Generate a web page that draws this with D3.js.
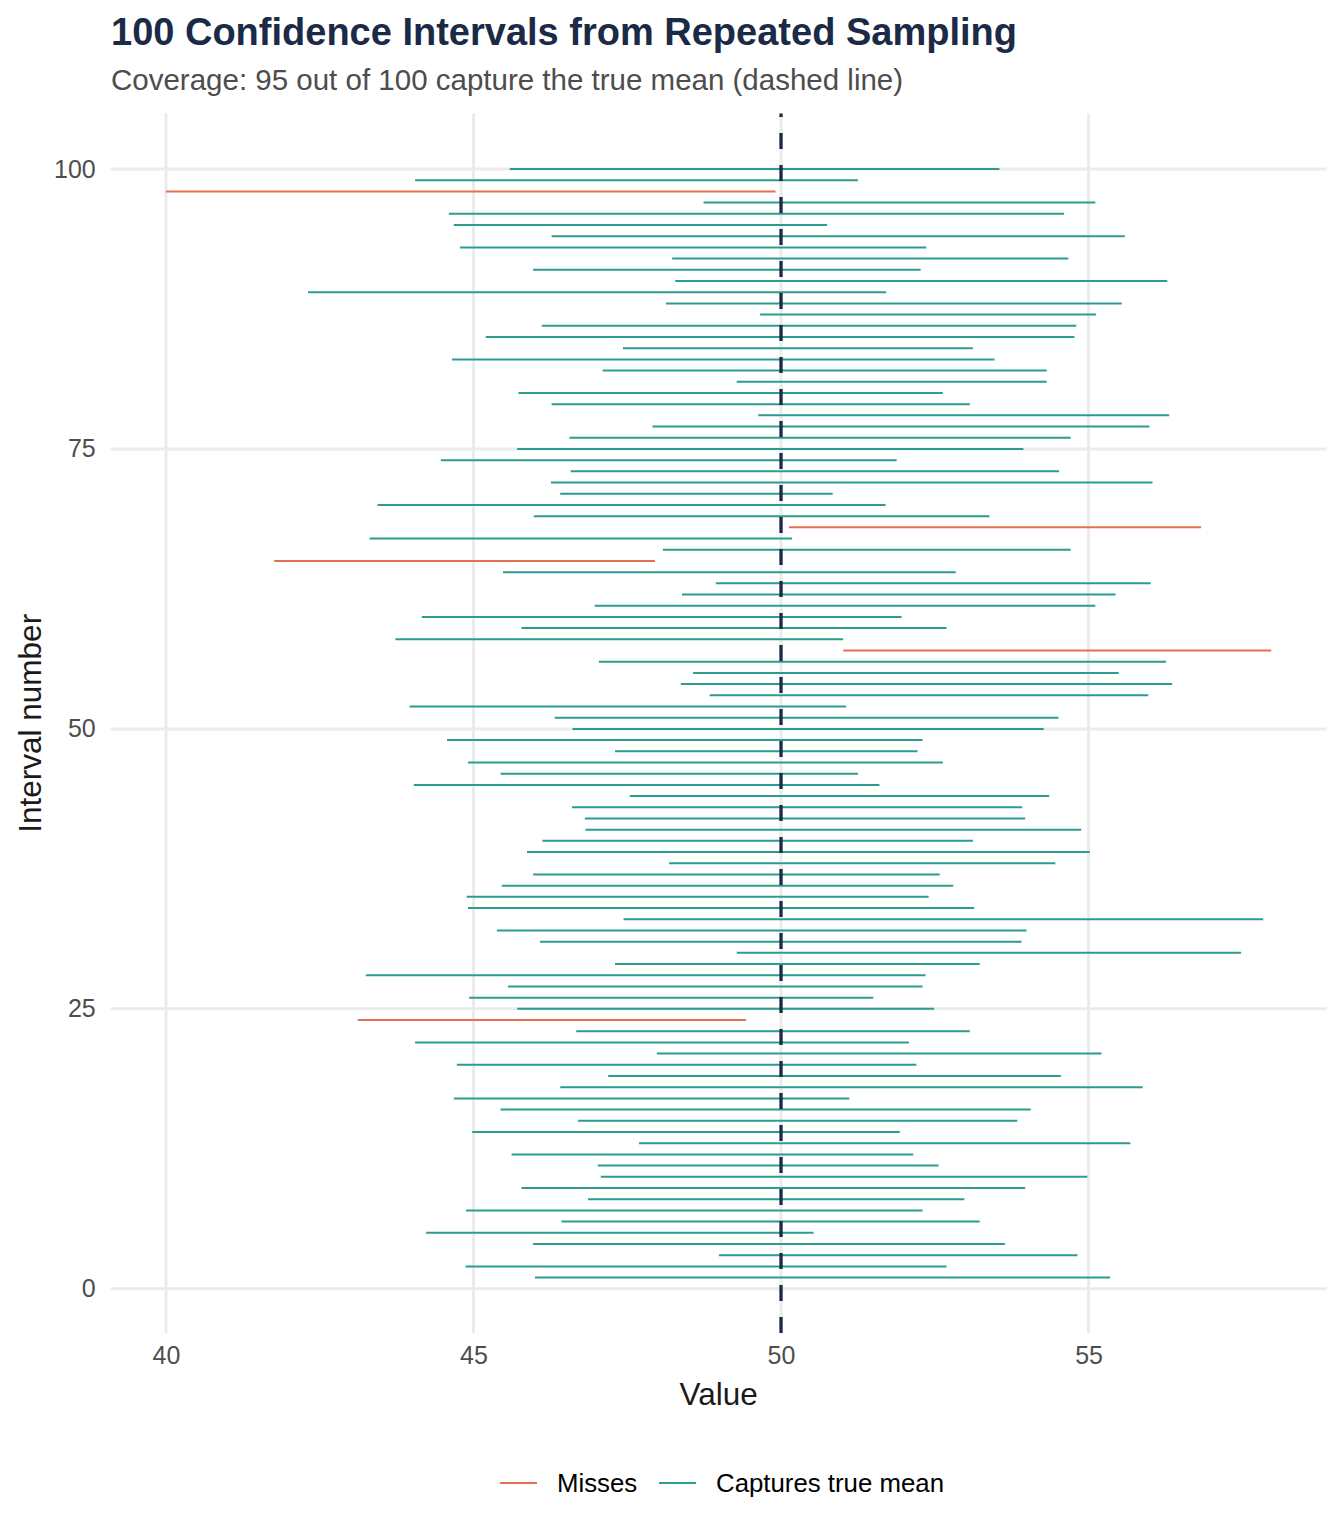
<!DOCTYPE html>
<html lang="en">
<head>
    <meta charset="UTF-8">
    <title>100 Confidence Intervals</title>
    <style>
        body {
            margin: 0;
            background: #FFFFFF;
        }
        text {
            font-family: "Liberation Sans", Arial, sans-serif;
        }
    </style>
</head>
<body>
<div id="ciChart"></div>
</body>
<script src="https://d3js.org/d3.v7.min.js"></script>
<script>
    // interval number 1..100, lower and upper bound of each interval
    const intervalIds = d3.range(1, 101);
    const lowerBounds = [
        46.00, 44.87, 48.99, 45.97, 44.23, 46.43, 44.88, 46.86, 45.78, 47.07,
        47.02, 45.62, 47.69, 44.98, 46.70, 45.44, 44.68, 46.41, 47.19, 44.73,
        47.98, 44.05, 46.67, 43.12, 45.71, 44.93, 45.56, 43.25, 47.30, 49.28,
        46.08, 45.38, 47.44, 44.91, 44.89, 45.46, 45.97, 48.18, 45.87, 46.12,
        46.82, 46.81, 46.60, 47.54, 44.03, 45.44, 44.91, 47.30, 44.57, 46.61,
        46.32, 43.96, 48.84, 48.37, 48.57, 47.04, 51.01, 43.73, 45.78, 44.16,
        46.97, 48.39, 48.94, 45.48, 41.76, 48.08, 43.31, 50.13, 45.98, 43.44,
        46.41, 46.26, 46.58, 44.47, 45.71, 46.56, 47.91, 49.63, 46.27, 45.73,
        49.28, 47.10, 44.65, 47.43, 45.20, 46.11, 49.66, 48.13, 42.31, 48.28,
        45.97, 48.23, 44.78, 46.27, 44.68, 44.60, 48.74, 40.00, 44.05, 45.59
    ];
    const upperBounds = [
        55.35, 52.69, 54.82, 53.64, 50.53, 53.23, 52.30, 52.98, 53.97, 54.98,
        52.56, 52.15, 55.68, 51.93, 53.84, 54.06, 51.11, 55.88, 54.55, 52.20,
        55.21, 52.08, 53.07, 49.43, 52.49, 51.50, 52.30, 52.35, 53.23, 57.48,
        53.91, 53.99, 57.84, 53.14, 52.40, 52.80, 52.58, 54.46, 55.02, 53.12,
        54.88, 53.97, 53.92, 54.36, 51.60, 51.25, 52.63, 52.22, 52.30, 54.27,
        54.51, 51.06, 55.97, 56.36, 55.49, 56.26, 57.97, 51.01, 52.69, 51.96,
        55.11, 55.44, 56.01, 52.84, 47.95, 54.71, 50.18, 56.83, 53.39, 51.70,
        50.84, 56.04, 54.52, 51.88, 53.94, 54.71, 55.99, 56.31, 53.07, 52.63,
        54.32, 54.32, 53.47, 53.12, 54.77, 54.80, 55.12, 55.54, 51.71, 56.28,
        52.27, 54.67, 52.36, 55.59, 50.75, 54.60, 55.11, 49.91, 51.25, 53.55
    ];
    const trueMean = 50;
    const xTicks = [40, 45, 50, 55];
    const yTicks = [0, 25, 50, 75, 100];
    const legendLabels = ["Misses", "Captures true mean"];
    const legendColors = ["#E76F51", "#2A9D8F"];

    const intervals = intervalIds.map((id, i) => ({
        id: id,
        lo: lowerBounds[i],
        hi: upperBounds[i],
        status: (lowerBounds[i] > trueMean || upperBounds[i] < trueMean) ? "Misses" : "Captures true mean"
    }));

    const width = 1344, height = 1536;
    const panel = {left: 110.7, right: 1326.5, top: 113.6, bottom: 1333};

    const svg = d3.select("#ciChart")
        .append("svg")
        .attr("width", width)
        .attr("height", height);

    // scales, with 5% padding like ggplot
    const xMin = d3.min(lowerBounds), xMax = d3.max(upperBounds);
    const xPad = (xMax - xMin) * 0.05;
    const x = d3.scaleLinear()
        .domain([xMin - xPad, xMax + xPad])
        .range([panel.left, panel.right]);

    const yPad = (100 - 1) * 0.05;
    const y = d3.scaleLinear()
        .domain([1 - yPad, 100 + yPad])
        .range([panel.bottom, panel.top]);

    const color = d3.scaleOrdinal()
        .domain(legendLabels)
        .range(legendColors);

    // grid lines
    svg.append("g")
        .selectAll("line")
        .data(xTicks)
        .join("line")
        .attr("x1", d => x(d))
        .attr("x2", d => x(d))
        .attr("y1", panel.top)
        .attr("y2", panel.bottom)
        .attr("stroke", "#EBEBEB")
        .attr("stroke-width", 3);

    svg.append("g")
        .selectAll("line")
        .data(yTicks)
        .join("line")
        .attr("x1", panel.left)
        .attr("x2", panel.right)
        .attr("y1", d => y(d))
        .attr("y2", d => y(d))
        .attr("stroke", "#EBEBEB")
        .attr("stroke-width", 3);

    // the intervals
    svg.append("g")
        .selectAll("line")
        .data(intervals)
        .join("line")
        .attr("x1", d => x(d.lo))
        .attr("x2", d => x(d.hi))
        .attr("y1", d => y(d.id))
        .attr("y2", d => y(d.id))
        .attr("stroke", d => color(d.status))
        .attr("stroke-width", 2);

    // true mean, dashed (pattern starts at the bottom)
    svg.append("line")
        .attr("x1", x(trueMean))
        .attr("x2", x(trueMean))
        .attr("y1", panel.bottom)
        .attr("y2", panel.top)
        .attr("stroke", "#1B2A47")
        .attr("stroke-width", 3.3)
        .attr("stroke-dasharray", "16,16");

    // axes: only labels, no lines
    const xAxis = svg.append("g")
        .attr("transform", `translate(0, ${panel.bottom + 10})`)
        .call(d3.axisBottom(x).tickValues(xTicks).tickSize(0).tickPadding(0));
    xAxis.select(".domain").remove();
    xAxis.selectAll("text")
        .attr("dy", "0.71em")
        .attr("y", 3)
        .style("font-size", "25px")
        .style("font-family", "Liberation Sans, Arial, sans-serif")
        .attr("fill", "#4D4D4D");

    const yAxis = svg.append("g")
        .attr("transform", `translate(${panel.left - 15}, 0)`)
        .call(d3.axisLeft(y).tickValues(yTicks).tickSize(0).tickPadding(0));
    yAxis.select(".domain").remove();
    yAxis.selectAll("text")
        .style("font-size", "25px")
        .style("font-family", "Liberation Sans, Arial, sans-serif")
        .attr("fill", "#4D4D4D");

    // axis titles
    svg.append("text")
        .attr("x", (panel.left + panel.right) / 2)
        .attr("y", 1405)
        .attr("text-anchor", "middle")
        .style("font-size", "31.5px")
        .attr("fill", "#1A1A1A")
        .text("Value");

    svg.append("text")
        .attr("transform", `translate(41, ${(panel.top + panel.bottom) / 2}) rotate(-90)`)
        .attr("text-anchor", "middle")
        .style("font-size", "31.5px")
        .attr("fill", "#1A1A1A")
        .text("Interval number");

    // title and subtitle
    svg.append("text")
        .attr("x", 111)
        .attr("y", 45)
        .style("font-size", "38px")
        .style("font-weight", "bold")
        .attr("fill", "#1B2A47")
        .text("100 Confidence Intervals from Repeated Sampling");

    svg.append("text")
        .attr("x", 111)
        .attr("y", 90)
        .style("font-size", "29.5px")
        .attr("fill", "#4D4D4D")
        .text("Coverage: 95 out of 100 capture the true mean (dashed line)");

    // legend
    const legendX = [500, 659];
    const legend = svg.append("g");
    const items = legend.selectAll("g")
        .data(legendLabels)
        .join("g")
        .attr("transform", (d, i) => `translate(${legendX[i]}, 1483)`);
    items.append("line")
        .attr("x1", 0)
        .attr("x2", 37)
        .attr("stroke", d => color(d))
        .attr("stroke-width", 2);
    items.append("text")
        .attr("x", 57)
        .attr("dy", "0.35em")
        .style("font-size", "25.8px")
        .attr("fill", "#000000")
        .text(d => d);
</script>
</html>
